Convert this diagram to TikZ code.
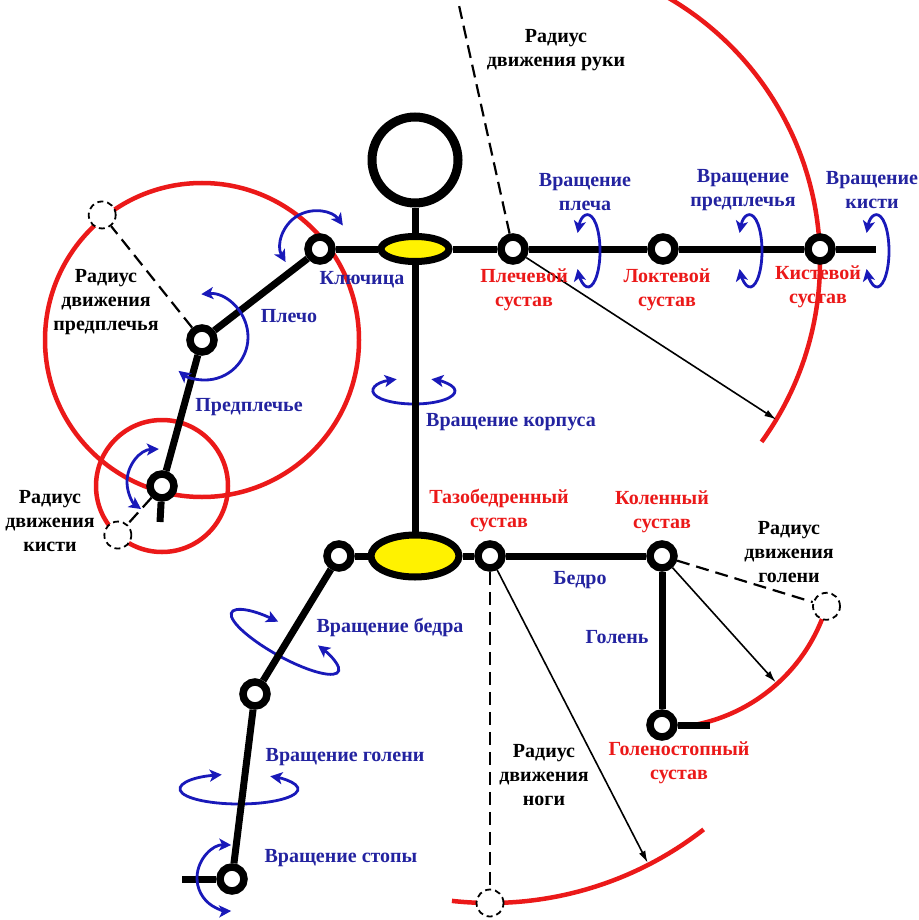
\documentclass[tikz,border=0pt]{standalone}
\usepackage{fontspec}
\setmainfont{Liberation Serif}
\usetikzlibrary{arrows.meta,shapes.geometric,backgrounds,calc}

\definecolor{rotblue}{RGB}{25,25,185}
\definecolor{lblblue}{RGB}{35,35,160}
\definecolor{jred}{RGB}{235,25,25}

\begin{document}
\begin{tikzpicture}[
    x=1pt, y=1pt,
    font=\fontsize{20}{24}\selectfont\bfseries,
    >=Latex,
    bone/.style={line width=7pt},
    joint/.style={circle, draw, line width=7.5pt, fill=white, minimum size=24pt, inner sep=0pt},
    ghost/.style={circle, draw, dash pattern=on 6pt off 4pt, line width=1.8pt, fill=white, minimum size=27pt, inner sep=0pt},
    pelvis/.style={ellipse, draw, line width=7pt, fill=yellow, inner sep=0pt},
    reach/.style={draw=jred, line width=4.5pt},
    reachline/.style={dash pattern=on 13pt off 7pt, line width=2.2pt},
    pointer/.style={-{Latex[length=12pt,width=7pt]}, line width=1.6pt},
    rot/.style={draw=rotblue, line width=2.8pt, {Stealth[length=12pt,width=12pt,inset=3pt]}-{Stealth[length=12pt,width=12pt,inset=3pt]}},
    part/.style={text=lblblue, align=center},
    jname/.style={text=jred, align=center},
    rname/.style={text=black, align=center}
]
\useasboundingbox (0,0) rectangle (918,-920);
\clip (0,0) rectangle (918,-920);

% Head and trunk
\node[circle, draw, line width=9pt, minimum size=86pt] (head) at (415,-160) {};
\node[pelvis, minimum width=68pt, minimum height=25pt] (chest) at (415,-249) {};
\node[pelvis, minimum width=88pt, minimum height=42pt] (hip) at (415,-556) {};

% Bent arm
\node[joint] (clav) at (320,-249) {};
\node[joint] (lelb) at (202,-340) {};
\node[joint] (lwr) at (162,-486) {};
\coordinate (lhand) at (160,-522);

% Stretched arm
\node[joint] (rsh) at (513,-249) {};
\node[joint] (rel) at (663,-249) {};
\node[joint] (rwr) at (820,-249) {};
\coordinate (rhand) at (876,-249);

% Legs
\node[joint] (lhip) at (339,-556) {};
\node[joint] (lknee) at (255,-694) {};
\node[joint] (lank) at (232,-879) {};
\coordinate (lfoot) at (182,-879);
\node[joint] (rhip) at (490,-556) {};
\node[joint] (rknee) at (662,-556) {};
\node[joint] (rank) at (662,-725) {};
\coordinate (rfoot) at (710,-725);

% Bones
\draw[bone] (head) -- (chest);
\draw[bone] (chest) -- (hip);
\draw[bone] (clav) -- (chest);
\draw[bone] (chest) -- (rsh);
\draw[bone] (rsh) -- (rel);
\draw[bone] (rel) -- (rwr);
\draw[bone] (rwr) -- (rhand);
\draw[bone] (clav) -- (lelb);
\draw[bone] (lelb) -- (lwr);
\draw[bone] (lwr) -- (lhand);
\draw[bone] (lhip) -- (hip);
\draw[bone] (hip) -- (rhip);
\draw[bone] (rhip) -- (rknee);
\draw[bone] (rknee) -- (rank);
\draw[bone] (rank) -- (rfoot);
\draw[bone] (lhip) -- (lknee);
\draw[bone] (lknee) -- (lank);
\draw[bone] (lank) -- (lfoot);

% Reach of the segments
\coordinate (armc) at (514,-262);
\coordinate (armtop) at ($(rsh)+(102.5:300)$);
\coordinate (armtip) at ($(armc)+(-31:306)$);
\coordinate (bodyrot) at (414,-391);
\coordinate (thighrot) at (285,-642);
\coordinate (shinrot) at (239,-789);
\begin{scope}[on background layer]
  \draw[reach] ($(armc)+(65:306)$) arc[start angle=65, end angle=-36, radius=306];
  \draw[reach] (lelb.center) circle[radius=157];
  \draw[reach] (lwr.center) circle[radius=66];
  \draw[reach] ($(rknee)+(-83:172)$) arc[start angle=-83, end angle=-17, radius=172];
  \draw[reach] ($(rhip)+(-96.3:347)$) arc[start angle=-96.3, end angle=-52, radius=347];
  % rotations behind the bones
  \draw[rot, shift={(bodyrot)}] (115:41 and 13) arc[start angle=115, end angle=425, x radius=41, y radius=13];
  \draw[rot, shift={(thighrot)}, rotate=-29] (105:61 and 15) arc[start angle=105, end angle=420, x radius=61, y radius=15];
  \draw[rot, shift={(shinrot)}] (107:59 and 15) arc[start angle=107, end angle=418, x radius=59, y radius=15];
\end{scope}

\node[ghost] (gelb) at ($(lelb)+(128.6:160)$) {};
\node[ghost] (gwr) at ($(lwr)+(228:66)$) {};
\node[ghost] (gknee) at ($(rknee)+(-17:172)$) {};
\node[ghost] (ghip) at ($(rhip)+(-90:347)$) {};

\draw[reachline] (rsh) -- (armtop);
\draw[reachline] (lelb) -- (gelb);
\draw[reachline] (lwr) -- (gwr);
\draw[reachline] (rknee) -- (gknee);
\draw[reachline] (rhip) -- (ghip);

\draw[pointer] (rsh) -- (armtip);
\draw[pointer] (rknee) -- ($(rknee)+(-48:170)$);
\draw[pointer] (rhip) -- ($(rhip)+(-62.8:345)$);

% Rotations
\coordinate (clavrot) at (315,-245);
\coordinate (elbrot) at (205,-337);
\coordinate (wrrot) at (160,-482);
\coordinate (shrot) at (588,-251);
\coordinate (forerot) at (750,-251);
\coordinate (handrot) at (877,-251);
\coordinate (footrot) at (230,-878);
\draw[rot] ($(clavrot)+(210:34)$) arc[start angle=210, end angle=35, radius=34];
\draw[rot] ($(elbrot)+(95:43)$) arc[start angle=95, end angle=-128, radius=43];
\draw[rot] ($(wrrot)+(92:33)$) arc[start angle=92, end angle=235, radius=33];
\draw[rot, shift={(shrot)}] (150:12 and 36) arc[start angle=150, end angle=-150, x radius=12, y radius=36];
\draw[rot, shift={(forerot)}] (150:12 and 36) arc[start angle=150, end angle=-150, x radius=12, y radius=36];
\draw[rot, shift={(handrot)}] (150:12 and 36) arc[start angle=150, end angle=-150, x radius=12, y radius=36];
\draw[rot] ($(footrot)+(88:33)$) arc[start angle=88, end angle=272, radius=33];

% Segment names
\node[part] (tclav) at (362,-280) {Ключица};
\node[part] (tupper) at (289,-316) {Плечо};
\node[part] (tfore) at (249,-407) {Предплечье};
\node[part] (tbody) at (511,-422) {Вращение корпуса};
\node[part] (tshrot) at (585,-192) {Вращение\\плеча};
\node[part] (tforerot) at (743,-190) {Вращение\\предплечья};
\node[part] (thandrot) at (872,-190) {Вращение\\кисти};
\node[part] (tthigh) at (580,-580) {Бедро};
\node[part] (tshin) at (617,-637) {Голень};
\node[part] (tthighrot) at (390,-627) {Вращение бедра};
\node[part] (tshinrot) at (345,-757) {Вращение голени};
\node[part] (tfootrot) at (341,-858) {Вращение стопы};

% Joint names
\node[jname] (tsh) at (524,-290) {Плечевой\\сустав};
\node[jname] (tel) at (667,-290) {Локтевой\\сустав};
\node[jname] (twr) at (818,-287) {Кистевой\\сустав};
\node[jname] (thip) at (499,-510) {Тазобедренный\\сустав};
\node[jname] (tknee) at (662,-512) {Коленный\\сустав};
\node[jname] (tank) at (679,-763) {Голеностопный\\сустав};

% Reach names
\node[rname] (rarm) at (556,-50) {Радиус\\движения руки};
\node[rname] (rfore) at (106,-302) {Радиус\\движения\\предплечья};
\node[rname] (rhand) at (50,-521) {Радиус\\движения\\кисти};
\node[rname] (rshin) at (789,-552) {Радиус\\движения\\голени};
\node[rname] (rleg) at (544,-775) {Радиус\\движения\\ноги};
\end{tikzpicture}
\end{document}
